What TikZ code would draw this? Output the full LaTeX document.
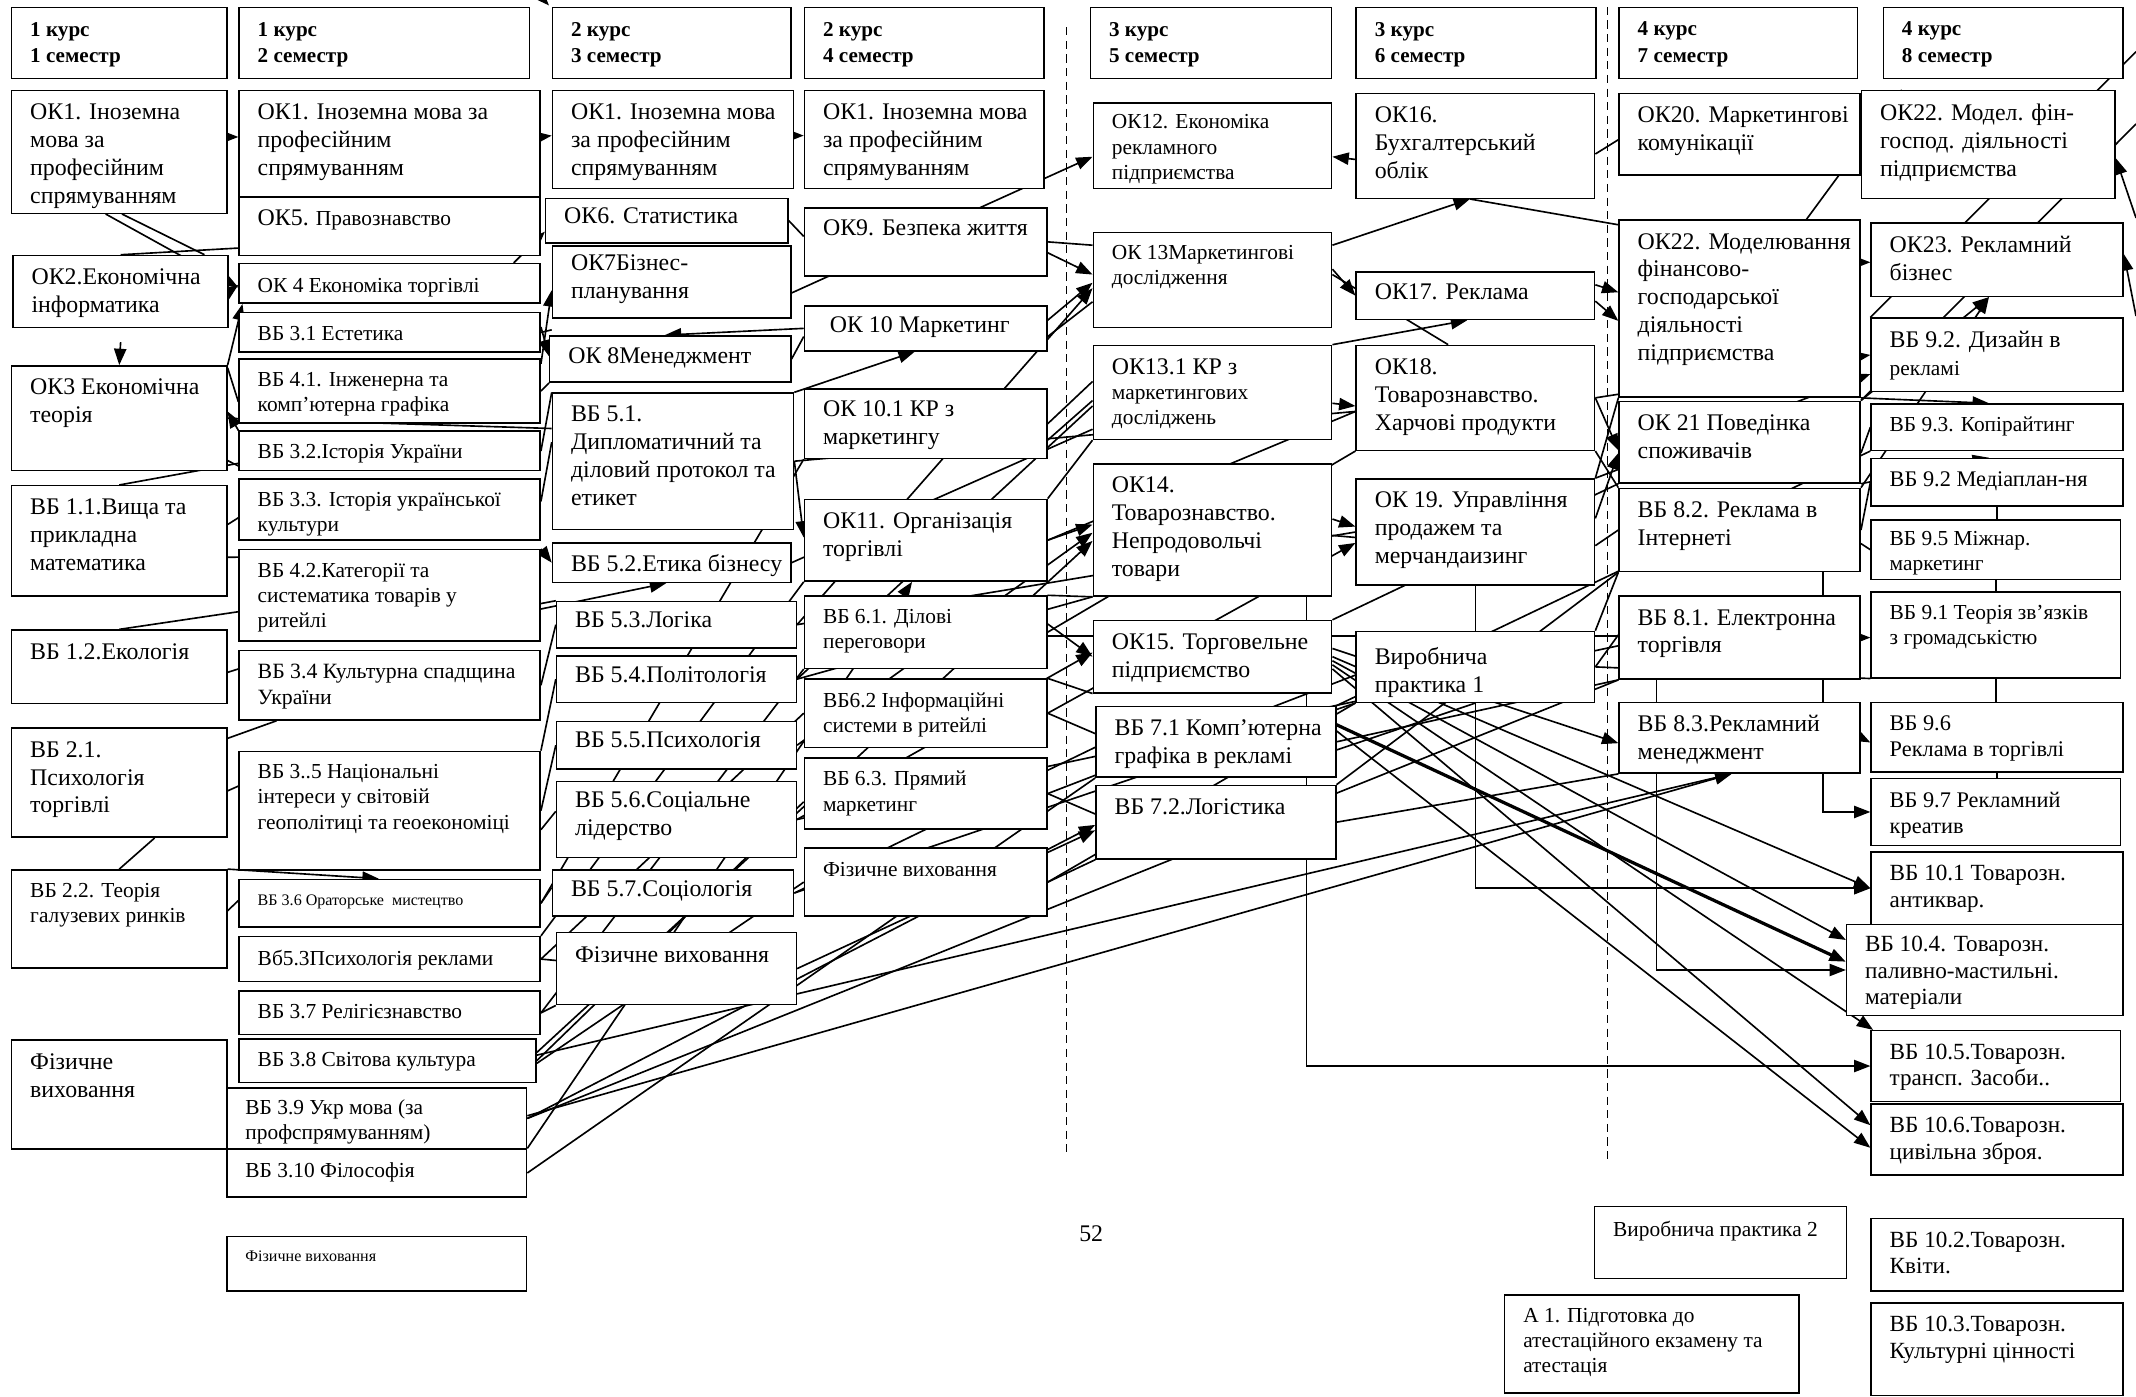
\documentclass[tikz,border=0pt]{standalone}
\usepackage{fontspec}
\setmainfont{Liberation Serif}
\usetikzlibrary{arrows.meta,backgrounds}

\tikzset{
  box/.style={draw, fill=white, line width=1.1pt, anchor=north west, inner sep=0pt},
  sz/.style 2 args={minimum width=#1pt, minimum height=#2pt},
  txt/.style={anchor=north west, align=left, inner xsep=14pt, inner ysep=10pt},
  fL/.style={font=\fontsize{17.5}{20.5}\selectfont},
  fN/.style={font=\fontsize{17}{19.5}\selectfont},
  fP/.style={font=\fontsize{16.4}{19.5}\selectfont},
  fM/.style={font=\fontsize{15.7}{18.5}\selectfont},
  fS/.style={font=\fontsize{11.8}{14}\selectfont},
  fH/.style={font=\bfseries\fontsize{15.5}{19.5}\selectfont},
  ln/.style={line width=1.2pt},
  arr/.style={line width=1.2pt, -{Triangle[length=12pt,width=9pt]}},
  dashln/.style={line width=1pt, dash pattern=on 6pt off 4pt},
}

\begin{document}
\begin{tikzpicture}[x=1pt,y=-1pt]
\useasboundingbox (0,0) rectangle (1568,1025);

%Shape: Rectangle -- semester heads
\node[box, sz={158}{52}] (h1) at (8,5) {};
\draw (h1.north west) node[txt, fH, inner ysep=11pt] (h1t) {1 курс\\1 семестр};
\node[box, sz={213}{52}] (h2) at (175,5) {};
\draw (h2.north west) node[txt, fH, inner ysep=11pt] (h2t) {1 курс\\2 семестр};
\node[box, sz={175}{52}] (h3) at (405,5) {};
\draw (h3.north west) node[txt, fH, inner ysep=11pt] (h3t) {2 курс\\3 семестр};
\node[box, sz={176}{52}] (h4) at (590,5) {};
\draw (h4.north west) node[txt, fH, inner ysep=11pt] (h4t) {2 курс\\4 семестр};
\node[box, sz={177}{52}] (h5) at (800,5) {};
\draw (h5.north west) node[txt, fH, inner ysep=11pt] (h5t) {3 курс\\5 семестр};
\node[box, sz={176}{52}] (h6) at (995,5) {};
\draw (h6.north west) node[txt, fH, inner ysep=11pt] (h6t) {3 курс\\6 семестр};
\node[box, sz={175}{52}] (h7) at (1188,5) {};
\draw (h7.north west) node[txt, fH, inner ysep=11pt] (h7t) {4 курс\\7 семестр};
\node[box, sz={176}{52}] (h8) at (1382,5) {};
\draw (h8.north west) node[txt, fH, inner ysep=11pt] (h8t) {4 курс\\8 семестр};

%Shape: Rectangle -- 1 semester
\node[box, sz={158}{90}] (ok1s1) at (8,66) {};
\draw (ok1s1.north west) node[txt, fL] (ok1s1t) {ОК1. Іноземна\\мова за\\професійним\\спрямуванням};
\node[box, sz={158}{53}] (ok2) at (9,187) {};
\draw (ok2.north west) node[txt, fL] (ok2t) {ОК2.Економічна\\інформатика};
\node[box, sz={158}{77}] (ok3) at (8,268) {};
\draw (ok3.north west) node[txt, fL] (ok3t) {ОК3 Економічна\\теорія};
\node[box, sz={158}{81}] (vb11) at (8,356) {};
\draw (vb11.north west) node[txt, fL] (vb11t) {ВБ 1.1.Вища та\\прикладна\\математика};
\node[box, sz={158}{54}] (vb12) at (8,462) {};
\draw (vb12.north west) node[txt, fL] (vb12t) {ВБ 1.2.Екологія};
\node[box, sz={158}{80}] (vb21) at (8,534) {};
\draw (vb21.north west) node[txt, fL] (vb21t) {ВБ 2.1.\\Психологія\\торгівлі};
\node[box, sz={158}{72}] (vb22) at (8,638) {};
\draw (vb22.north west) node[txt, fM] (vb22t) {ВБ 2.2. Теорія\\галузевих ринків};
\node[box, sz={158}{80}] (fv1) at (8,763) {};
\draw (fv1.north west) node[txt, fL] (fv1t) {Фізичне\\виховання};

%Shape: Rectangle -- 2 semester
\node[box, sz={221}{78}] (ok1s2) at (175,66) {};
\draw (ok1s2.north west) node[txt, fL] (ok1s2t) {ОК1. Іноземна мова за\\професійним\\спрямуванням};
\node[box, sz={221}{43}] (ok5) at (175,144) {};
\draw (ok5.north west) node[txt, fM] (ok5t) {{\fontsize{17.5}{20}\selectfont ОК5.} Правознавство};
\node[box, sz={221}{29}] (ok4) at (175,193) {};
\draw (ok4.north west) node[txt, fM, inner ysep=11pt] (ok4t) {ОК 4 Економіка торгівлі};
\node[box, sz={221}{29}] (vb31) at (175,229) {};
\draw (vb31.north west) node[txt, fM] (vb31t) {ВБ 3.1 Естетика};
\node[box, sz={221}{47}] (vb41) at (175,263) {};
\draw (vb41.north west) node[txt, fM] (vb41t) {ВБ 4.1. Інженерна та\\комп’ютерна графіка};
\node[box, sz={221}{29}] (vb32) at (175,316) {};
\draw (vb32.north west) node[txt, fM] (vb32t) {ВБ 3.2.Історія України};
\node[box, sz={221}{45}] (vb33) at (175,351) {};
\draw (vb33.north west) node[txt, fM] (vb33t) {ВБ 3.3. Історія української\\культури};
\node[box, sz={221}{67}] (vb42) at (175,403) {};
\draw (vb42.north west) node[txt, fM] (vb42t) {ВБ 4.2.Категорії та\\систематика товарів у\\ритейлі};
\node[box, sz={221}{51}] (vb34) at (175,477) {};
\draw (vb34.north west) node[txt, font=\fontsize{16}{19}\selectfont] (vb34t) {ВБ 3.4 Культурна спадщина\\України};
\node[box, sz={221}{87}] (vb35) at (175,551) {};
\draw (vb35.north west) node[txt, fM] (vb35t) {ВБ 3..5 Національні\\інтереси у світовій\\геополітиці та геоекономіці};
\node[box, sz={221}{35}] (vb36) at (175,645) {};
\draw (vb36.north west) node[txt, fS, inner ysep=12pt] (vb36t) {ВБ 3.6 Ораторське\ \ мистецтво};
\node[box, sz={221}{33}] (vb53p) at (175,687) {};
\draw (vb53p.north west) node[txt, fM] (vb53pt) {Вб5.3Психологія реклами};
\node[box, sz={221}{32}] (vb37) at (175,727) {};
\draw (vb37.north west) node[txt, fM] (vb37t) {ВБ 3.7 Релігієзнавство};
\node[box, sz={218}{32}] (vb38) at (175,762) {};
\draw (vb38.north west) node[txt, fM] (vb38t) {ВБ 3.8 Світова культура};
\node[box, sz={220}{45}] (vb39) at (166,798) {};
\draw (vb39.north west) node[txt, fM, inner ysep=9pt] (vb39t) {ВБ 3.9 Укр мова (за\\профспрямуванням)};
\node[box, sz={220}{35}] (vb310) at (166,843) {};
\draw (vb310.north west) node[txt, fM] (vb310t) {ВБ 3.10 Філософія};
\node[box, sz={220}{40}] (fv2) at (166,907) {};
\draw (fv2.north west) node[txt, fS, inner ysep=11pt] (fv2t) {Фізичне виховання};

%Shape: Rectangle -- 3 semester
\node[box, sz={177}{72}] (ok1s3) at (405,66) {};
\draw (ok1s3.north west) node[txt, fL] (ok1s3t) {ОК1. Іноземна мова\\за професійним\\спрямуванням};
\node[box, sz={178}{33}] (ok6) at (400,145) {};
\draw (ok6.north west) node[txt, fL, inner ysep=7pt] (ok6t) {ОК6. Статистика};
\node[box, sz={175}{53}] (ok7) at (405,180) {};
\draw (ok7.north west) node[txt, fL, inner ysep=7pt] (ok7t) {ОК7Бізнес-\\планування};
\node[box, sz={177}{34}] (ok8) at (403,246) {};
\draw (ok8.north west) node[txt, fL, inner ysep=9pt] (ok8t) {ОК 8Менеджмент};
\node[box, sz={177}{100}] (vb51) at (405,288) {};
\draw (vb51.north west) node[txt, fL] (vb51t) {ВБ 5.1.\\Дипломатичний та\\діловий протокол та\\етикет};
\node[box, sz={175}{29}] (vb52) at (405,398) {};
\draw (vb52.north west) node[txt, fL, inner ysep=9pt] (vb52t) {ВБ 5.2.Етика бізнесу};
\node[box, sz={176}{34}] (vb53) at (408,441) {};
\draw (vb53.north west) node[txt, fL, inner ysep=8pt] (vb53t) {ВБ 5.3.Логіка};
\node[box, sz={176}{34}] (vb54) at (408,481) {};
\draw (vb54.north west) node[txt, fL, inner ysep=8pt] (vb54t) {ВБ 5.4.Політологія};
\node[box, sz={176}{35}] (vb55) at (408,529) {};
\draw (vb55.north west) node[txt, fL, inner ysep=8pt] (vb55t) {ВБ 5.5.Психологія};
\node[box, sz={176}{56}] (vb56) at (408,573) {};
\draw (vb56.north west) node[txt, fL, inner ysep=8pt] (vb56t) {ВБ 5.6.Соціальне\\лідерство};
\node[box, sz={177}{34}] (vb57) at (405,638) {};
\draw (vb57.north west) node[txt, fL, inner ysep=8pt] (vb57t) {ВБ 5.7.Соціологія};
\node[box, sz={176}{53}] (fv3) at (408,684) {};
\draw (fv3.north west) node[txt, fL, inner ysep=11pt] (fv3t) {Фізичне виховання};

%Shape: Rectangle -- 4 semester
\node[box, sz={176}{72}] (ok1s4) at (590,66) {};
\draw (ok1s4.north west) node[txt, fL] (ok1s4t) {ОК1. Іноземна мова\\за професійним\\спрямуванням};
\node[box, sz={178}{50}] (ok9) at (590,152) {};
\draw (ok9.north west) node[txt, fL, inner ysep=9pt] (ok9t) {ОК9. Безпека життя};
\node[box, sz={178}{33}] (ok10) at (590,224) {};
\draw (ok10.north west) node[txt, fL, inner ysep=8pt, inner xsep=19pt] (ok10t) {ОК 10 Маркетинг};
\node[box, sz={178}{51}] (ok101) at (590,285) {};
\draw (ok101.north west) node[txt, fL, inner ysep=9pt] (ok101t) {ОК 10.1 КР з\\маркетингу};
\node[box, sz={178}{60}] (ok11) at (590,366) {};
\draw (ok11.north west) node[txt, fL] (ok11t) {ОК11. Організація\\торгівлі};
\node[box, sz={178}{53}] (vb61) at (590,437) {};
\draw (vb61.north west) node[txt, fM] (vb61t) {ВБ 6.1. Ділові\\переговори};
\node[box, sz={178}{50}] (vb62) at (590,498) {};
\draw (vb62.north west) node[txt, fM] (vb62t) {ВБ6.2 Інформаційні\\системи в ритейлі};
\node[box, sz={178}{52}] (vb63) at (590,556) {};
\draw (vb63.north west) node[txt, fM] (vb63t) {ВБ 6.3. Прямий\\маркетинг};
\node[box, sz={178}{50}] (fv4) at (590,622) {};
\draw (fv4.north west) node[txt, fM, inner ysep=11pt] (fv4t) {Фізичне виховання};

%Shape: Rectangle -- 5 semester
\node[box, sz={175}{63}] (ok12) at (802,75) {};
\draw (ok12.north west) node[txt, fM, inner ysep=9pt] (ok12t) {ОК12. Економіка\\рекламного\\підприємства};
\node[box, sz={175}{70}] (ok13) at (802,170) {};
\draw (ok13.north west) node[txt, fM] (ok13t) {ОК 13Маркетингові\\дослідження};
\node[box, sz={175}{69}] (ok131) at (802,253) {};
\draw (ok131.north west) node[txt, fM] (ok131t) {{\fontsize{17.5}{20}\selectfont ОК13.1 КР з}\\маркетингових\\досліджень};
\node[box, sz={175}{97}] (ok14) at (802,340) {};
\draw (ok14.north west) node[txt, fL] (ok14t) {ОК14.\\Товарознавство.\\Непродовольчі\\товари};
\node[box, sz={175}{53}] (ok15) at (802,455) {};
\draw (ok15.north west) node[txt, fL] (ok15t) {ОК15. Торговельне\\підприємство};
\node[box, sz={176}{52}] (vb71) at (804,518) {};
\draw (vb71.north west) node[txt, fL] (vb71t) {ВБ 7.1 Комп’ютерна\\графіка в рекламі};
\node[box, sz={176}{54}] (vb72) at (804,576) {};
\draw (vb72.north west) node[txt, fL] (vb72t) {ВБ 7.2.Логістика};

%Shape: Rectangle -- 6 semester
\node[box, sz={175}{77}] (ok16) at (995,68) {};
\draw (ok16.north west) node[txt, fL] (ok16t) {ОК16.\\Бухгалтерський\\облік};
\node[box, sz={175}{35}] (ok17) at (995,199) {};
\draw (ok17.north west) node[txt, fL, inner ysep=9pt] (ok17t) {ОК17. Реклама};
\node[box, sz={175}{77}] (ok18) at (995,253) {};
\draw (ok18.north west) node[txt, fL] (ok18t) {ОК18.\\Товарознавство.\\Харчові продукти};
\node[box, sz={175}{78}] (ok19) at (995,351) {};
\draw (ok19.north west) node[txt, fL] (ok19t) {ОК 19. Управління\\продажем та\\мерчандаизинг};
\node[box, sz={175}{52}] (vp1) at (995,463) {};
\draw (vp1.north west) node[txt, fL, inner ysep=12pt] (vp1t) {Виробнича\\практика 1};

%Shape: Rectangle -- 7 semester
\node[box, sz={177}{60}] (ok20) at (1188,68) {};
\draw (ok20.north west) node[txt, fL] (ok20t) {ОК20. Маркетингові\\комунікації};
\node[box, sz={177}{130}] (ok22) at (1188,161) {};
\draw (ok22.north west) node[txt, fL] (ok22t) {ОК22. Моделювання\\фінансово-\\господарської\\діяльності\\підприємства};
\node[box, sz={177}{60}] (ok21) at (1188,294) {};
\draw (ok21.north west) node[txt, fL] (ok21t) {ОК 21 Поведінка\\споживачів};
\node[box, sz={177}{61}] (vb82) at (1188,358) {};
\draw (vb82.north west) node[txt, fL] (vb82t) {ВБ 8.2. Реклама в\\Інтернеті};
\node[box, sz={177}{61}] (vb81) at (1188,437) {};
\draw (vb81.north west) node[txt, fL] (vb81t) {ВБ 8.1. Електронна\\торгівля};
\node[box, sz={177}{52}] (vb83) at (1188,515) {};
\draw (vb83.north west) node[txt, fL] (vb83t) {ВБ 8.3.Рекламний\\менеджмент};

%Shape: Rectangle -- 8 semester
\node[box, sz={186}{79}] (ok22m) at (1366,66) {};
\draw (ok22m.north west) node[txt, fL] (ok22mt) {ОК22. Модел. фін-\\господ. діяльності\\підприємства};
\node[box, sz={185}{54}] (ok23) at (1373,163) {};
\draw (ok23.north west) node[txt, fL] (ok23t) {ОК23. Рекламний\\бізнес};
\node[box, sz={185}{54}] (vb92d) at (1373,233) {};
\draw (vb92d.north west) node[txt, fL] (vb92dt) {ВБ 9.2. Дизайн в\\{\fontsize{15.7}{18}\selectfont рекламі}};
\node[box, sz={185}{34}] (vb93) at (1373,296) {};
\draw (vb93.north west) node[txt, fM] (vb93t) {ВБ 9.3. Копірайтинг};
\node[box, sz={185}{35}] (vb92m) at (1373,336) {};
\draw (vb92m.north west) node[txt, fP] (vb92mt) {ВБ 9.2 Медіаплан-ня};
\node[box, sz={183}{44}] (vb95) at (1373,381) {};
\draw (vb95.north west) node[txt, fM, inner ysep=9pt] (vb95t) {ВБ 9.5 Міжнар.\\маркетинг};
\node[box, sz={183}{63}] (vb91) at (1373,434) {};
\draw (vb91.north west) node[txt, fM] (vb91t) {ВБ 9.1 Теорія зв’язків\\з громадськістю};
\node[box, sz={185}{51}] (vb96) at (1373,515) {};
\draw (vb96.north west) node[txt, fP] (vb96t) {ВБ 9.6\\Реклама в торгівлі};
\node[box, sz={183}{49}] (vb97) at (1373,571) {};
\draw (vb97.north west) node[txt, fP] (vb97t) {ВБ 9.7 Рекламний\\креатив};
\node[box, sz={185}{53}] (vb101) at (1373,625) {};
\draw (vb101.north west) node[txt, fN] (vb101t) {ВБ 10.1 Товарозн.\\антиквар.};
\node[box, sz={203}{67}] (vb104) at (1355,678) {};
\draw (vb104.north west) node[txt, fN, inner ysep=9pt] (vb104t) {ВБ 10.4. Товарозн.\\паливно-мастильні.\\матеріали};
\node[box, sz={183}{52}] (vb105) at (1373,756) {};
\draw (vb105.north west) node[txt, fN] (vb105t) {ВБ 10.5.Товарозн.\\трансп. Засоби..};
\node[box, sz={185}{52}] (vb106) at (1373,810) {};
\draw (vb106.north west) node[txt, fN] (vb106t) {ВБ 10.6.Товарозн.\\цивільна зброя.};
\node[box, sz={185}{53}] (vb102) at (1373,894) {};
\draw (vb102.north west) node[txt, fN] (vb102t) {ВБ 10.2.Товарозн.\\Квіти.};
\node[box, sz={185}{68}] (vb103) at (1373,956) {};
\draw (vb103.north west) node[txt, fN] (vb103t) {ВБ 10.3.Товарозн.\\Культурні цінності};

%Shape: Rectangle -- practice and attestation
\node[box, sz={185}{53}] (vp2) at (1170,885) {};
\draw (vp2.north west) node[txt, fM, inner ysep=11pt] (vp2t) {Виробнича практика 2};
\node[box, sz={216}{72}] (att) at (1104,950) {};
\draw (att.north west) node[txt, fM] (attt) {А 1. Підготовка до\\атестаційного екзамену та\\атестація};

% Text Node
\node[fL] (pgno) at (801,906) {52};

\coordinate (tp) at (386,-14);
\coordinate (ne1) at (1568,91);
\coordinate (ne2) at (1568,38);
\coordinate (rt1) at (1568,160);
\coordinate (rt2) at (1568,232);

\begin{scope}[on background layer]
%Dashed Lines
\draw[dashln] (783,20) -- (783,848);
\draw[dashln] (1180,5) -- (1180,852);
\draw[arr] (tp) -- ([shift={(-2pt,1pt)}]h3.north west);

%Straight Lines -- 1 to 2 semester
\draw[arr] ([xshift=-10pt]ok1s1.south) -- ([yshift=-3pt]ok4.west);
\draw[ln] ([xshift=2pt]ok1s1.south) -- ([xshift=-18pt]ok2.north east);
\draw[ln] (ok2.north) -- ([yshift=6pt]ok5.south west);
\draw[arr] (ok2.east) -- ([yshift=-1pt]ok4.west);
\draw[arr] ([yshift=-10pt]ok2.south) -- (ok3.north);
\draw[arr] (ok3.north east) -- ([xshift=3pt]ok4.south west);
\draw[arr] (vb32.north west) -- ([yshift=5pt]ok3.east);
\draw[ln] ([yshift=-2pt]ok3.north east) -- ([yshift=-8pt]vb41.west);
\draw[ln] (ok3.east) -- ([yshift=24pt]vb51.west);
\draw[ln] ([yshift=8pt]ok3.south east) -- ([yshift=4pt]vb32.south west);
\draw[ln] (vb11.north) -- ([yshift=6pt]vb32.south west);
\draw[ln] ([yshift=12pt]vb11.east) -- ([yshift=-6pt]vb33.west);
\draw[ln] ([yshift=-12pt]vb11.east) -- ([yshift=-6pt]vb42.north west);
\draw[ln] (vb12.north) -- ([yshift=-12pt]vb42.west);
\draw[ln] ([yshift=-4pt]vb12.east) -- ([yshift=12pt]vb34.west);
\draw[ln] ([yshift=-8pt]vb21.north east) -- ([xshift=28pt]vb34.south west);
\draw[ln] ([yshift=-6pt]vb21.east) -- ([yshift=18pt]vb35.west);
\draw[ln] (vb22.north) -- ([xshift=26pt]vb21.south);
\draw[arr] (vb22.north east) -- ([xshift=103pt]vb36.north west);
\draw[ln] ([yshift=6pt]vb22.east) -- ([yshift=2pt]vb36.west);

%Straight Lines -- 2 to 3 semester
\draw[arr] ([yshift=11pt]ok1s1.east) -- ([yshift=5pt]ok1s2.west);
\draw[arr] ([yshift=5pt]ok1s2.east) -- ([yshift=3pt]ok1s3.west);
\draw[arr] ([yshift=3pt]ok1s3.east) -- ([yshift=3pt]ok1s4.west);
\draw[arr] ([xshift=-20pt]ok4.north east) -- ([yshift=-8pt]ok6.west);
\draw[arr] ([yshift=-4pt]vb41.north east) -- ([yshift=-6pt]ok7.west);
\draw[arr] ([yshift=4pt]vb31.east) -- ([yshift=2pt]ok8.west);
\draw[arr] (vb42.north east) -- (vb52.west);
\draw[arr] ([yshift=-10pt]vb42.east) -- ([xshift=-4pt]vb52.south);
\draw[ln] (vb31.east) -- ([yshift=-8pt]ok7.south west);
\draw[ln] (vb41.east) -- (ok8.south west);
\draw[ln] (vb32.east) -- (vb51.north west);
\draw[ln] ([yshift=6pt]vb33.east) -- ([yshift=14pt]vb51.west);
\draw[ln] ([yshift=-6pt]vb42.east) -- (vb53.north west);
\draw[ln] (vb34.east) -- (vb53.west);
\draw[ln] (vb35.north east) -- (vb54.west);
\draw[ln] (vb35.east) -- (vb55.west);
\draw[ln] ([yshift=-14pt]vb35.east) -- ([yshift=6pt]vb56.west);
\draw[ln] (vb36.east) -- ([yshift=4pt]vb57.west);
\draw[ln] (vb53p.east) -- ([yshift=6pt]fv3.west);
\draw[ln] (vb37.east) -- (fv3.south west);

%Straight Lines -- long ones from 2 semester
\draw[arr] ([yshift=6pt]vb38.east) -- ([yshift=-8pt]ok14.west);
\draw[arr] ([yshift=4pt]vb38.east) -- ([xshift=-6pt]vb83.south);
\draw[arr] ([yshift=2pt]vb39.east) -- ([xshift=-6pt]vb83.south);
\draw[arr] (vb39.east) -- ([yshift=-2pt]vb72.west);
\draw[ln] (vb39.east) -- (vb81.south west);
\draw[arr] (vb310.north east) -- ([xshift=-10pt]ok11.south);
\draw[ln] ([yshift=-2pt]vb38.east) -- (fv4.west);
\draw[ln] (vb38.east) -- ([yshift=-6pt]vb63.west);
\draw[ln] (vb53p.east) -- (vb62.west);
\draw[ln] (vb37.east) -- (vb61.south west);
\draw[ln] (vb36.east) -- (ok101.south west);
\draw[ln] (vb53p.north east) -- (ok11.south west);
\draw[ln] (vb310.east) -- (vb71.south west);

%Straight Lines -- 3 to 4 semester
\draw[arr] (ok10.west) -- ([xshift=-4pt]ok8.north);
\draw[arr] (vb51.north east) -- ([xshift=-8pt]ok10.south);
\draw[ln] (ok6.east) -- ([yshift=4pt]ok9.west);
\draw[arr] ([yshift=-8pt]ok7.east) -- ([yshift=-8pt]ok12.west);
\draw[ln] (ok8.east) -- ([yshift=-6pt]ok10.west);
\draw[arr] (vb51.east) -- ([yshift=2pt]ok11.west);

%Straight Lines -- 3 semester to 5 and 6
\draw[arr] (vb53.east) -- ([yshift=-6pt]ok13.west);
\draw[ln] (vb54.east) -- ([yshift=-10pt]ok131.west);
\draw[arr] (vb55.east) -- ([yshift=-2pt]ok14.west);
\draw[arr] (vb56.east) -- ([yshift=3pt]ok15.west);
\draw[ln] (vb57.east) -- ([yshift=-4pt]vb71.west);
\draw[arr] (fv3.east) -- ([yshift=-6pt]vb72.west);
\draw[ln] (vb52.east) -- ([yshift=8pt]ok131.south west);
\draw[ln] (vb53.east) -- (ok19.west);
\draw[ln] (vb51.east) -- ([yshift=-10pt]ok18.west);
\draw[ln] (vb56.east) -- ([yshift=-6pt]vb81.west);
\draw[ln] (vb57.east) -- (vp1.south west);
\draw[ln] (vb54.east) -- (ok14.south west);

%Straight Lines -- 4 to 5 semester
\draw[arr] ([yshift=-8pt]ok9.east) -- ([yshift=4pt]ok13.west);
\draw[arr] ([yshift=6pt]ok10.east) -- ([yshift=-2pt]ok13.west);
\draw[ln] ([yshift=-6pt]ok10.east) -- ([yshift=-16pt]ok13.west);
\draw[ln] (ok9.east) -- ([yshift=-10pt]ok13.north west);
\draw[ln] (ok101.east) -- ([yshift=8pt]ok131.west);
\draw[ln] ([yshift=-12pt]ok101.east) -- ([yshift=-6pt]ok131.west);
\draw[arr] (ok11.east) -- ([yshift=4pt]ok14.west);
\draw[arr] ([yshift=6pt]vb61.east) -- (ok15.west);
\draw[ln] ([yshift=-3pt]vb61.east) -- ([yshift=1pt]vb81.west);
\draw[ln] (vb62.east) -- ([yshift=6pt]vb71.west);
\draw[ln] (vb63.east) -- ([yshift=6pt]vb72.west);
\draw[ln] (fv4.east) -- (vb72.south west);
\draw[ln] (ok11.north east) -- (ok131.south west);
\draw[ln] (vb61.north east) -- (ok14.south west);
\draw[ln] (vb62.north east) -- (ok15.south west);
\draw[arr] (vb62.east) -- ([yshift=-8pt]ok19.west);
\draw[ln] (vb63.east) -- ([yshift=-6pt]vp1.west);
\draw[ln] (vb61.east) -- (ok18.south west);
\draw[ln] (fv4.east) -- (vp1.south west);
\draw[ln] (ok11.east) -- ([yshift=-10pt]ok18.west);

%Straight Lines -- 5 to 6 semester
\draw[arr] ([yshift=-10pt]ok16.west) -- ([yshift=-8pt]ok12.east);
\draw[arr] ([yshift=-10pt]ok13.north east) -- ([xshift=-4pt]ok16.south);
\draw[ln] ([xshift=-4pt]ok16.south) -- ([yshift=-4pt]ok22.north west);
\draw[ln] ([yshift=-6pt]ok16.east) -- ([yshift=-4pt]ok20.west);
\draw[arr] ([yshift=8pt]ok13.east) -- (ok17.west);
\draw[ln] ([yshift=4pt]ok13.east) -- ([xshift=-20pt]ok18.north);
\draw[arr] ([yshift=-8pt]ok131.east) -- ([yshift=-6pt]ok18.west);
\draw[arr] (ok131.north east) -- ([xshift=-6pt]ok17.south);
\draw[arr] ([yshift=8pt]ok14.east) -- ([yshift=4pt]ok19.west);
\draw[ln] ([yshift=-4pt]ok14.east) -- ([yshift=-4pt]ok19.west);
\draw[ln] ([yshift=-6pt]vb71.east) -- (vp1.south);

%Straight Lines -- 6 to 7 semester
\draw[arr] ([yshift=8pt]ok17.east) -- ([yshift=12pt]ok22.west);
\draw[arr] ([yshift=-4pt]ok17.east) -- ([yshift=-9pt]ok22.west);
\draw[arr] (ok18.east) -- ([yshift=-6pt]ok21.west);
\draw[arr] ([yshift=10pt]ok19.east) -- ([yshift=-8pt]ok21.west);
\draw[ln] ([yshift=-10pt]ok19.east) -- (vb82.west);
\draw[ln] (vp1.east) -- ([yshift=2pt]vb81.west);
\draw[ln] (vp1.east) -- (vb91.south west);
\draw[ln] (vp1.north east) -- (vb82.south west);
\draw[ln] (ok18.south east) -- (vb82.north west);
\draw[ln] (ok19.north east) -- (ok22.south west);

%Straight Lines -- 5 semester to 7 and 8
\draw[arr] ([yshift=6pt]ok15.east) -- ([yshift=-4pt]vb83.west);
\draw[arr] (ok15.east) -- (vb101.west);
\draw[arr] ([yshift=-3pt]ok15.east) -- ([yshift=-12pt]vb104.north west);
\draw[arr] ([yshift=-6pt]ok15.east) -- ([xshift=2pt]vb105.north west);
\draw[arr] ([yshift=-9pt]ok15.east) -- ([yshift=-16pt]vb106.north west);
\draw[arr, line width=2.4pt] ([yshift=-14pt]vb71.north east) -- ([yshift=-28pt]vb104.north west);
\draw[arr] ([yshift=8pt]vb71.east) -- ([yshift=-6pt]vb106.west);
\draw[arr] (ok19.south) |- (vb101.west);
\draw[arr] ([xshift=-19pt]ok14.south east) |- (vb105.west);
\draw[arr] ([xshift=28pt]vb81.south west) |- (vb104.west);
\draw[arr] ([xshift=-28pt]vb82.south east) |- (vb97.west);
\draw[ln] (vb71.east) -- (vb81.south west);
\draw[ln] (vb72.east) -- (vb83.south west);
\draw[ln] (vb72.north east) -- (vb82.south west);
\draw[ln] (vb71.north east) -- (vb93.south west);
\draw[ln] (ok15.north east) -- (ok21.south west);

%Straight Lines -- 7 to 8 semester
\draw[arr] (vb81.east) -- ([yshift=-2pt]vb91.west);
\draw[arr] (vb83.east) -- ([yshift=-4pt]vb96.west);
\draw[ln] (vb92m.south) -- (vb92m.south |- vb95.north);
\draw[ln] (vb95.south) -- (vb95.south |- vb91.north);
\draw[ln] (vb91.south) -- (vb91.south |- vb96.north);
\draw[ln] (vb96.south) -- (vb96.south |- vb97.north);
\draw[arr] ([yshift=34pt]ok22.east) -- ([yshift=-2pt]ok23.west);
\draw[arr] (ok18.east) -- (vb92d.west);
\draw[arr] (ok19.north east) -- ([yshift=-14pt]vb92d.west);
\draw[arr] (ok21.north east) -- ([xshift=-6pt]ok23.south);
\draw[arr] (vb82.north east) -- ([xshift=-6pt]ok23.south);
\draw[ln] ([yshift=-8pt]ok21.east) -- (vb93.west);
\draw[ln] (vb82.east) -- (vb92m.west);
\draw[ln] ([yshift=-10pt]vb82.east) -- (vb95.west);
\draw[arr] (ok22.south east) -- ([xshift=-6pt]vb93.north);
\draw[arr] (ok21.south east) -- ([xshift=-6pt]vb92m.north);
\draw[ln] (ok21.north east) -- (ne1);
\draw[ln] (vb92d.north west) -- (ne2);
\draw[ln] ([xshift=-40pt]ok22.north east) -- ([xshift=30pt]ok22m.north west);
\draw[arr] (rt1) -- ([yshift=-10pt]ok22m.east);
\draw[arr] (rt2) -- ([yshift=4pt]ok23.east);
\end{scope}

\end{tikzpicture}
\end{document}
